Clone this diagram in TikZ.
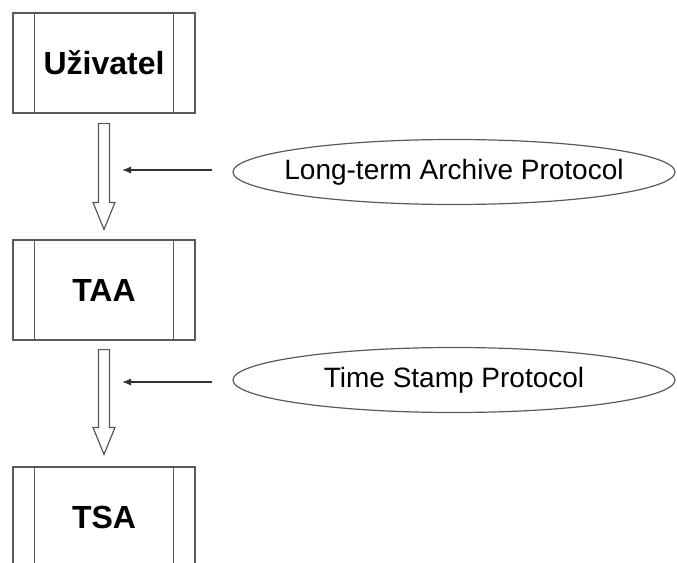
\documentclass[tikz,border=0pt]{standalone}
\usepackage{fontspec}
\setmainfont{Liberation Sans}
\usetikzlibrary{calc, arrows.meta, shapes.geometric}

\begin{document}
\begin{tikzpicture}[x=1pt, y=1pt,
    pbox/.style={draw=black!65, line width=1.2pt, minimum width=182pt, minimum height=100pt, inner sep=0pt, font=\fontsize{32}{38}\selectfont\bfseries},
    proto/.style={ellipse, draw=black!65, line width=1.2pt, minimum width=442pt, minimum height=65pt, inner ysep=0pt, inner xsep=-20pt, font=\fontsize{28}{34}\selectfont},
    flow/.style={draw=black!65, line width=1.2pt, fill=white, line join=miter},
    lbl/.style={draw=black!80, line width=1.2pt, -{Latex[length=9pt, width=7pt]}},
]
\useasboundingbox (0,0) rectangle (677,-562);

% === Parties ===
\node[pbox] (user) at (104, -63) {Uživatel};
\node[pbox] (taa) at (104, -290) {TAA};
\node[pbox] (tsa) at (104, -517) {TSA};

% side bars
\draw[draw=black!65, line width=1.2pt] ($(user.north west)+(22,0)$) -- ($(user.south west)+(22,0)$);
\draw[draw=black!65, line width=1.2pt] ($(user.north east)+(-22,0)$) -- ($(user.south east)+(-22,0)$);
\draw[draw=black!65, line width=1.2pt] ($(taa.north west)+(22,0)$) -- ($(taa.south west)+(22,0)$);
\draw[draw=black!65, line width=1.2pt] ($(taa.north east)+(-22,0)$) -- ($(taa.south east)+(-22,0)$);
\draw[draw=black!65, line width=1.2pt] ($(tsa.north west)+(22,0)$) -- ($(tsa.south west)+(22,0)$);
\draw[draw=black!65, line width=1.2pt] ($(tsa.north east)+(-22,0)$) -- ($(tsa.south east)+(-22,0)$);

% === Protocols ===
\node[proto] (ltap) at (454, -172) {Long-term Archive Protocol};
\node[proto] (tsp) at (454, -380) {Time Stamp Protocol};

% hollow flow arrows
\draw[flow] ($(user.south)+(-5.5,-10)$) -- ($(user.south)+(5.5,-10)$)
    -- ($(taa.north)+(5.5,37)$) -- ($(taa.north)+(11,37)$) -- ($(taa.north)+(0,10)$)
    -- ($(taa.north)+(-11,37)$) -- ($(taa.north)+(-5.5,37)$) -- cycle;
\draw[flow] ($(taa.south)+(-5.5,-9)$) -- ($(taa.south)+(5.5,-9)$)
    -- ($(tsa.north)+(5.5,39)$) -- ($(tsa.north)+(11,39)$) -- ($(tsa.north)+(0,12)$)
    -- ($(tsa.north)+(-11,39)$) -- ($(tsa.north)+(-5.5,39)$) -- cycle;

% protocol pointers
\coordinate (tip1) at (122, -170);
\coordinate (tip2) at (122, -382);
\draw[lbl] ($(ltap.west)+(-20,2)$) -- (tip1);
\draw[lbl] ($(tsp.west)+(-20,-2)$) -- (tip2);
\end{tikzpicture}
\end{document}
